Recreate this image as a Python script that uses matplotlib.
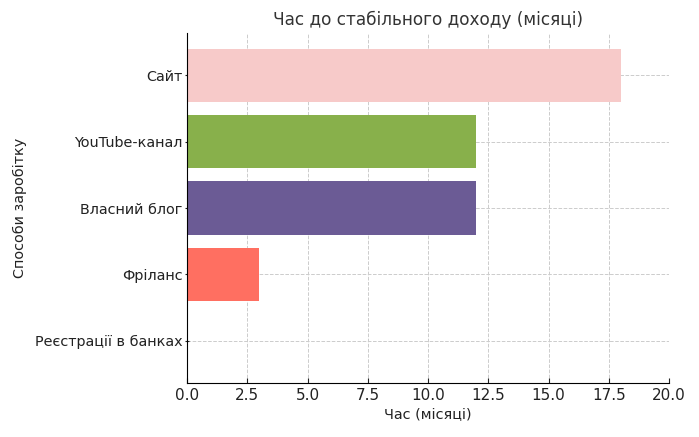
import matplotlib
matplotlib.use("Agg")
import matplotlib.pyplot as plt

categories = ["Реєстрації в банках", "Фріланс", "Власний блог", "YouTube-канал", "Сайт"]
months = [0, 3, 12, 12, 18]
colors = ["#ffd700", "#ff6f61", "#6b5b95", "#88b04b", "#f7cac9"]

plt.rcParams['font.family'] = ['DejaVu Sans']
fig = plt.figure(figsize=(6.99, 4.37), dpi=100)
ax = fig.add_axes([187/699, 1-383/437, (669-187)/699, (383-33)/437])
ax.barh(categories, months, color=colors, height=0.8, zorder=2)
ax.set_xlim(0, 20)
ax.set_xticks([0, 2.5, 5, 7.5, 10, 12.5, 15, 17.5, 20])
ax.grid(True, linestyle='--', color='#cccccc', linewidth=0.7, zorder=0)
ax.set_axisbelow(True)
for s in ['top', 'right']:
    ax.spines[s].set_visible(False)
ax.tick_params(axis='x', direction='in', labelsize=11, colors='#222222')
ax.tick_params(axis='y', direction='inout', labelsize=10.4, colors='#222222', pad=1.5)
ax.set_title("Час до стабільного доходу (місяці)", fontsize=12.2, color='#333333', pad=6)
ax.set_xlabel("Час (місяці)", fontsize=10.4, color='#222222', labelpad=3)
ax.set_ylabel("Способи заробітку", fontsize=10.4, color='#222222', labelpad=6)
fig.savefig("out.png", dpi=100)
